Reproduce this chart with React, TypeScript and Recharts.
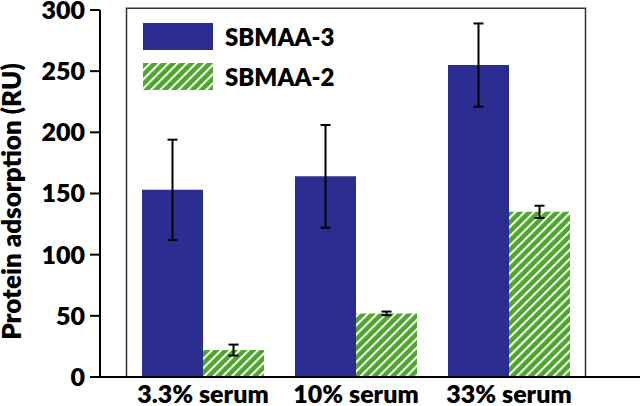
import React from 'react';
import { BarChart, Bar, XAxis, YAxis, ErrorBar, Legend, ReferenceArea, Label } from 'recharts';

const categories = ['3.3% serum', '10% serum', '33% serum'];
const sbmaa3 = [153, 164, 255];
const sbmaa3Err = [41, 42, 34];
const sbmaa2 = [22, 52, 135];
const sbmaa2Err = [4.5, 1.5, 5];
const yTicks = [0, 50, 100, 150, 200, 250, 300];
const seriesNames = ['SBMAA-3', 'SBMAA-2'];
const yLabel = 'Protein adsorption (RU)';

const BLUE = '#2B2E90';
const GREEN = '#4CA72A';
const FONT = 'Lato, "Open Sans", sans-serif';
const WEIGHT = 800;

const data = categories.map((c, i) => ({
  name: c,
  s3: sbmaa3[i],
  e3: sbmaa3Err[i],
  s2: sbmaa2[i],
  e2: sbmaa2Err[i],
}));

const StripePattern = ({ id }: { id: string }) => (
  <pattern id={id} patternUnits="userSpaceOnUse" width={6.5} height={6.5} patternTransform="rotate(45)">
    <rect x={0} y={0} width={6.5} height={6.5} fill={GREEN} />
    <rect x={0} y={0} width={2} height={6.5} fill="#fff" />
  </pattern>
);

const LegendContent = () => (
  <svg width={220} height={70} style={{ display: 'block', overflow: 'visible' }}>
    <defs>
      <StripePattern id="stripesLegend" />
    </defs>
    <rect x={0} y={0} width={70} height={27} fill={BLUE} />
    <rect x={0} y={40} width={70} height={27} fill="url(#stripesLegend)" />
    <text x={82} y={23} fontFamily={FONT} fontWeight={WEIGHT} fontSize={24} fill="#000">{seriesNames[0]}</text>
    <text x={82} y={63} fontFamily={FONT} fontWeight={WEIGHT} fontSize={24} fill="#000">{seriesNames[1]}</text>
  </svg>
);

const YLabel = (props: any) => {
  const vb = props.viewBox || { x: 0, y: 10, width: 100, height: 367 };
  const cx = 21;
  const cy = vb.y + vb.height / 2 + 8;
  return (
    <text
      x={cx}
      y={cy}
      transform={`rotate(-90, ${cx}, ${cy})`}
      textAnchor="middle"
      fontFamily={FONT}
      fontWeight={WEIGHT}
      fontSize={26}
      fill="#000"
    >
      {yLabel}
    </text>
  );
};

export default function App() {
  const tickStyle = { fill: '#000', fontSize: 25, fontWeight: WEIGHT, fontFamily: FONT };
  return (
    <div style={{ position: 'absolute', left: 0, top: 0, background: '#fff' }}>
      <BarChart
        width={643}
        height={406}
        data={data}
        margin={{ top: 10, right: 3, bottom: 0, left: 0 }}
        barCategoryGap={15.5}
        barGap={0}
      >
        <defs>
          <StripePattern id="stripes" />
        </defs>
        <ReferenceArea y1={0} y2={301.5} fill="none" stroke="#333" strokeWidth={1.5} ifOverflow="visible" />
        <XAxis
          dataKey="name"
          height={29}
          padding={{ left: 26.5, right: 54.5 }}
          tickLine={false}
          axisLine={{ stroke: '#000', strokeWidth: 2 }}
          tick={tickStyle}
          interval={0}
        />
        <YAxis
          domain={[0, 300]}
          ticks={yTicks}
          width={100}
          tickSize={10}
          tickMargin={5}
          axisLine={{ stroke: '#000', strokeWidth: 2 }}
          tickLine={{ stroke: '#000', strokeWidth: 2 }}
          tick={tickStyle}
          interval={0}
        >
          <Label content={<YLabel />} />
        </YAxis>
        <Bar dataKey="s3" name={seriesNames[0]} fill={BLUE} isAnimationActive={false}>
          <ErrorBar dataKey="e3" width={5} stroke="#000" strokeWidth={2} />
        </Bar>
        <Bar dataKey="s2" name={seriesNames[1]} fill="url(#stripes)" isAnimationActive={false}>
          <ErrorBar dataKey="e2" width={5} stroke="#000" strokeWidth={2} />
        </Bar>
        <Legend
          layout="vertical"
          align="center"
          verticalAlign="middle"
          content={<LegendContent />}
          wrapperStyle={{ left: 143, top: 23, width: 220, height: 70 }}
        />
      </BarChart>
    </div>
  );
}
